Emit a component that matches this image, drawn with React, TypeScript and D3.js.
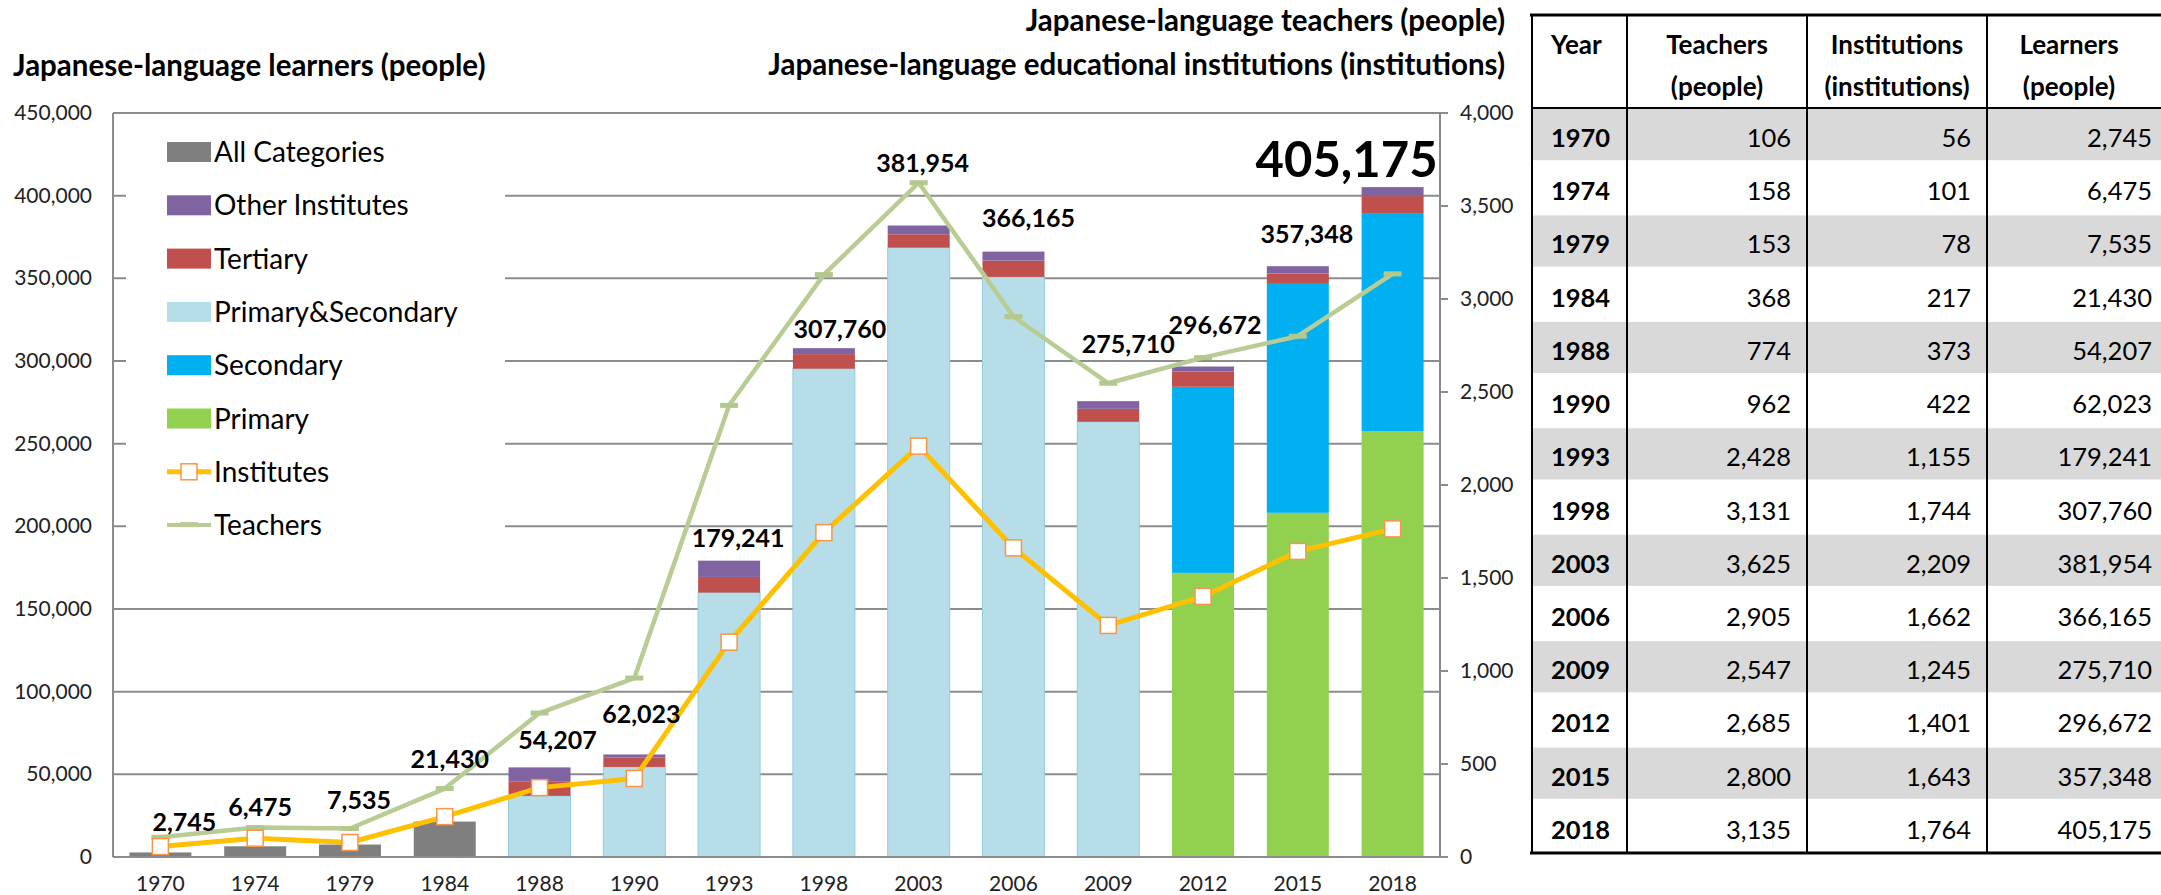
import React from 'react';
import * as d3 from 'd3';

const years = ['1970','1974','1979','1984','1988','1990','1993','1998','2003','2006','2009','2012','2015','2018'];
const teachers = [106,158,153,368,774,962,2428,3131,3625,2905,2547,2685,2800,3135];
const institutions = [56,101,78,217,373,422,1155,1744,2209,1662,1245,1401,1643,1764];
const learners = [2745,6475,7535,21430,54207,62023,179241,307760,381954,366165,275710,296672,357348,405175];
const allCategories = [2745,6475,7535,21430,0,0,0,0,0,0,0,0,0,0];
const primary = [0,0,0,0,0,0,0,0,0,0,0,171840,208170,257590];
const secondary = [0,0,0,0,0,0,0,0,0,0,0,112560,138480,131880];
const primarySecondary = [0,0,0,0,37000,54480,159950,295350,368600,350870,263240,0,0,0];
const tertiary = [0,0,0,0,8500,5760,9450,8810,8050,9840,7840,9240,6280,10270];
const otherInstitutes = [0,0,0,0,8707,1783,9841,3600,5304,5455,4630,3032,4418,5435];
const leftTicks = [0,50000,100000,150000,200000,250000,300000,350000,400000,450000];
const rightTicks = [0,500,1000,1500,2000,2500,3000,3500,4000];

// layout nudges for the total labels (dx, dy relative to bar top)
const labelDx = [24,5,9,5,18,7,9,16,4,15,20,12,9,-46];
const labelDy = [-30,-39,-44,-62,-27,-40,-22,-19,-62,-33,-57,-41,-32,-27];

const FONT = 'Lato, Carlito, Calibri, sans-serif';
const fmt = d3.format(',');

const seriesKeys = ['all','primary','secondary','ps','tertiary','other'];
const seriesColors: Record<string,string> = {
  all: '#7f7f7f', primary: '#92d050', secondary: '#00b0f0', ps: '#b7dee8', tertiary: '#c0504d', other: '#8064a2'
};

export default function App() {
  const W = 2161, H = 895;
  const left = 113, right = 1440, top = 113, bottom = 857;
  const x = d3.scaleBand<string>().domain(years).range([left, right]).paddingInner(0.346).paddingOuter(0.173);
  const yL = d3.scaleLinear().domain([0, 450000]).range([bottom, top]);
  const yR = d3.scaleLinear().domain([0, 4000]).range([bottom, top]);

  const rows = years.map((yr, i) => ({
    year: yr, all: allCategories[i], primary: primary[i], secondary: secondary[i],
    ps: primarySecondary[i], tertiary: tertiary[i], other: otherInstitutes[i]
  }));
  const stacked = d3.stack<any>().keys(seriesKeys)(rows);

  const cx = (i: number) => (x(years[i]) as number) + x.bandwidth() / 2;
  const lineT = d3.line<number>().x((_, i) => cx(i)).y(d => yR(d));

  const legendItems = [
    { label: 'All Categories', type: 'rect', color: seriesColors.all },
    { label: 'Other Institutes', type: 'rect', color: seriesColors.other },
    { label: 'Tertiary', type: 'rect', color: seriesColors.tertiary },
    { label: 'Primary&Secondary', type: 'rect', color: seriesColors.ps },
    { label: 'Secondary', type: 'rect', color: seriesColors.secondary },
    { label: 'Primary', type: 'rect', color: seriesColors.primary },
    { label: 'Institutes', type: 'inst', color: '#ffc000' },
    { label: 'Teachers', type: 'teach', color: '#b8cc94' },
  ];

  const colX = [1532, 1627, 1807, 1987, 2161];
  const tTop = 15, tHead = 108, tBottom = 853;
  const rowH = (tBottom - tHead) / years.length;

  return (
    <svg width={W} height={H} style={{ position: 'absolute', left: 0, top: 0, background: '#fff' }} fontFamily={FONT}>
      <rect x={0} y={0} width={W} height={H} fill="#fff" />
      <text x={13} y={76} fontSize={29.5} fontWeight="bold" fill="#000">Japanese-language learners (people)</text>
      <text x={1505} y={31} fontSize={29.5} fontWeight="bold" fill="#000" textAnchor="end">Japanese-language teachers (people)</text>
      <text x={1505} y={75} fontSize={29.5} fontWeight="bold" fill="#000" textAnchor="end">Japanese-language educational institutions (institutions)</text>

      {leftTicks.map(t => (
        <line key={t} x1={left} x2={right} y1={yL(t)} y2={yL(t)} stroke="#8c8c8c" strokeWidth={2} />
      ))}
      {leftTicks.map(t => (
        <text key={'l' + t} x={92} y={yL(t) + 7} fontSize={21} textAnchor="end" fill="#222">{fmt(t)}</text>
      ))}
      {rightTicks.map(t => (
        <g key={'r' + t}>
          <line x1={right} x2={right + 8} y1={yR(t)} y2={yR(t)} stroke="#8c8c8c" strokeWidth={2} />
          <text x={1460} y={yR(t) + 7} fontSize={21} fill="#222">{fmt(t)}</text>
        </g>
      ))}

      {stacked.map(s => (
        <g key={s.key} fill={seriesColors[s.key]} stroke={s.key === 'ps' ? '#92cddc' : 'none'} strokeWidth={1}>
          {s.map((d, i) => d[1] - d[0] > 0 ? (
            <rect key={i} x={x(years[i])} width={x.bandwidth()} y={yL(d[1])} height={yL(d[0]) - yL(d[1])} />
          ) : null)}
        </g>
      ))}

      <line x1={left} x2={left} y1={top} y2={bottom} stroke="#8c8c8c" strokeWidth={2} />
      <line x1={right} x2={right} y1={top} y2={bottom} stroke="#8c8c8c" strokeWidth={2} />
      <line x1={left} x2={right} y1={bottom} y2={bottom} stroke="#8c8c8c" strokeWidth={2} />

      {years.map((yr, i) => (
        <text key={'x' + yr} x={cx(i)} y={891} fontSize={21} textAnchor="middle" fill="#222">{yr}</text>
      ))}

      <rect x={126} y={120} width={379} height={435} fill="#fff" />
      {legendItems.map((it, i) => {
        const cy = 152 + i * 53.3;
        return (
          <g key={it.label}>
            {it.type === 'rect' && <rect x={167} y={cy - 10} width={44} height={20} fill={it.color} />}
            {it.type === 'inst' && (
              <g>
                <line x1={167} x2={211} y1={cy} y2={cy} stroke={it.color} strokeWidth={5} />
                <rect x={181} y={cy - 8} width={16} height={16} fill="#fff" stroke="#f79646" strokeWidth={1.5} />
              </g>
            )}
            {it.type === 'teach' && (
              <g>
                <line x1={167} x2={211} y1={cy} y2={cy} stroke={it.color} strokeWidth={4} />
                <rect x={180} y={cy - 3} width={18} height={5} fill={it.color} />
              </g>
            )}
            <text x={214} y={cy + 10} fontSize={28} fill="#000">{it.label}</text>
          </g>
        );
      })}

      <path d={lineT(teachers) || ''} fill="none" stroke="#b8cc94" strokeWidth={4.5} strokeLinejoin="round" />
      {teachers.map((v, i) => (
        <rect key={'tm' + i} x={cx(i) - 9} y={yR(v) - 2.5} width={18} height={5} fill="#b3c88d" />
      ))}
      <path d={lineT(institutions) || ''} fill="none" stroke="#ffc000" strokeWidth={5} strokeLinejoin="round" />
      {institutions.map((v, i) => (
        <rect key={'im' + i} x={cx(i) - 8} y={yR(v) - 8} width={16} height={16} fill="#fff" stroke="#f79646" strokeWidth={1.5} />
      ))}

      {learners.map((v, i) => {
        const big = i === learners.length - 1;
        return (
          <text key={'lab' + i} x={cx(i) + labelDx[i]} y={yL(v) + labelDy[i]} dy="0.35em"
            fontSize={big ? 49 : 25} fontWeight="bold" textAnchor="middle" fill="#000">{fmt(v)}</text>
        );
      })}

      {years.map((yr, i) => i % 2 === 0 ? (
        <rect key={'tr' + i} x={colX[0]} y={tHead + i * rowH + 1} width={colX[4] - colX[0]} height={rowH - 2} fill="#d9d9d9" />
      ) : null)}
      <line x1={colX[0] - 2} x2={colX[4]} y1={tTop} y2={tTop} stroke="#000" strokeWidth={3} />
      <line x1={colX[0]} x2={colX[4]} y1={tHead} y2={tHead} stroke="#000" strokeWidth={2} />
      <line x1={colX[0] - 2} x2={colX[4]} y1={tBottom} y2={tBottom} stroke="#000" strokeWidth={3} />
      {colX.slice(0, 4).map(cxv => (
        <line key={'cv' + cxv} x1={cxv} x2={cxv} y1={tTop} y2={tBottom} stroke="#000" strokeWidth={2} />
      ))}
      <text x={1551} y={54} fontSize={26} fontWeight="bold">Year</text>
      <text x={(colX[1] + colX[2]) / 2} y={54} fontSize={26} fontWeight="bold" textAnchor="middle">Teachers</text>
      <text x={(colX[1] + colX[2]) / 2} y={96} fontSize={26} fontWeight="bold" textAnchor="middle">(people)</text>
      <text x={(colX[2] + colX[3]) / 2} y={54} fontSize={26} fontWeight="bold" textAnchor="middle">Institutions</text>
      <text x={(colX[2] + colX[3]) / 2} y={96} fontSize={26} fontWeight="bold" textAnchor="middle">(institutions)</text>
      <text x={(colX[3] + colX[4]) / 2 - 5} y={54} fontSize={26} fontWeight="bold" textAnchor="middle">Learners</text>
      <text x={(colX[3] + colX[4]) / 2 - 5} y={96} fontSize={26} fontWeight="bold" textAnchor="middle">(people)</text>
      {years.map((yr, i) => {
        const by = tHead + i * rowH + 39;
        return (
          <g key={'row' + yr} fontSize={25.5}>
            <text x={1551} y={by} fontWeight="bold">{yr}</text>
            <text x={1791} y={by} textAnchor="end">{fmt(teachers[i])}</text>
            <text x={1971} y={by} textAnchor="end">{fmt(institutions[i])}</text>
            <text x={2152} y={by} textAnchor="end">{fmt(learners[i])}</text>
          </g>
        );
      })}
    </svg>
  );
}
